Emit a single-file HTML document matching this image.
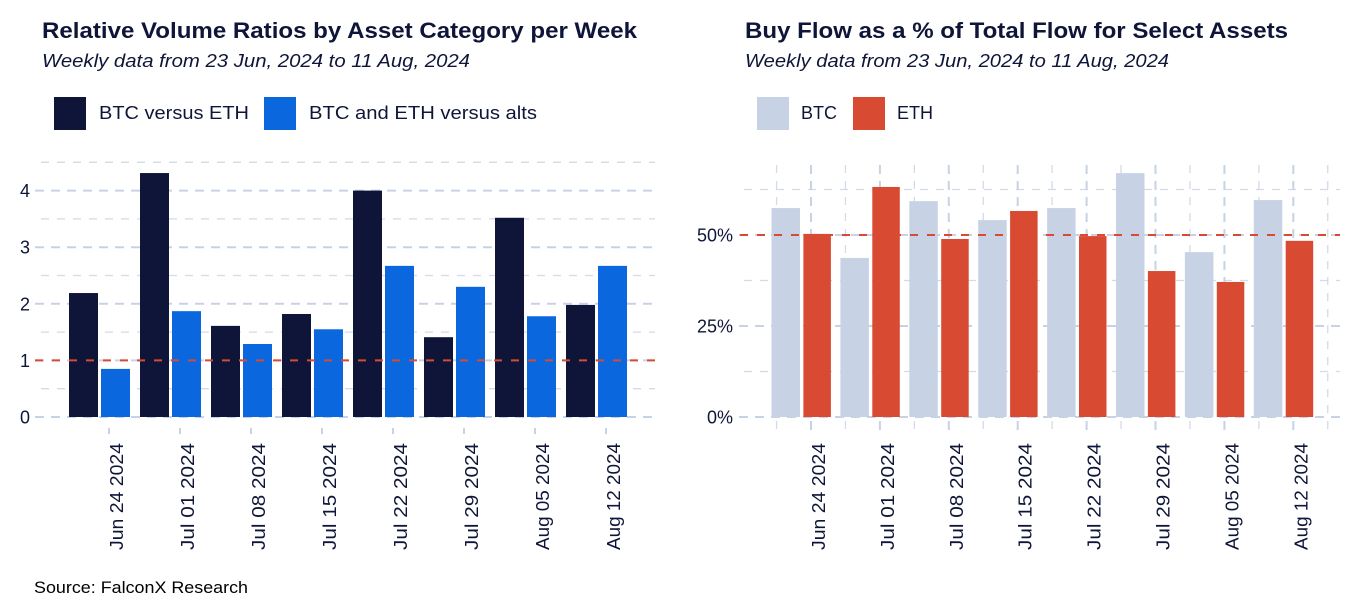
<!DOCTYPE html>
<html><head><meta charset="utf-8"><style>
html,body{margin:0;padding:0;background:#fff;}
svg{display:block;font-family:"Liberation Sans",Arial,sans-serif;}
</style></head><body>
<svg id="chart" width="1350" height="600" viewBox="0 0 1350 600">
<g id="static" fill="#0e1538">
<text x="42" y="38" font-size="22.5" font-weight="bold" textLength="595" lengthAdjust="spacingAndGlyphs">Relative Volume Ratios by Asset Category per Week</text>
<text x="42" y="67" font-size="18.5" font-style="italic" textLength="428" lengthAdjust="spacingAndGlyphs">Weekly data from 23 Jun, 2024 to 11 Aug, 2024</text>
<rect x="54" y="97" width="32" height="33" fill="#0e1538"/>
<text x="99" y="119" font-size="18" textLength="150" lengthAdjust="spacingAndGlyphs">BTC versus ETH</text>
<rect x="264" y="97" width="32" height="33" fill="#0b67de"/>
<text x="309" y="119" font-size="18" textLength="228" lengthAdjust="spacingAndGlyphs">BTC and ETH versus alts</text>

<text x="745" y="38" font-size="22.5" font-weight="bold" textLength="543" lengthAdjust="spacingAndGlyphs">Buy Flow as a % of Total Flow for Select Assets</text>
<text x="745" y="67" font-size="18.5" font-style="italic" textLength="424" lengthAdjust="spacingAndGlyphs">Weekly data from 23 Jun, 2024 to 11 Aug, 2024</text>
<rect x="757" y="97" width="32" height="33" fill="#c7d3e5"/>
<text x="801" y="119" font-size="18">BTC</text>
<rect x="853" y="97" width="32" height="33" fill="#d84a31"/>
<text x="897" y="119" font-size="18">ETH</text>

<text x="34" y="593" font-size="17" fill="#000" textLength="214" lengthAdjust="spacingAndGlyphs">Source: FalconX Research</text>
</g>
<g id="left"></g>
<g id="right"></g>
</svg>
<script>
const categories = ["Jun 24 2024","Jul 01 2024","Jul 08 2024","Jul 15 2024","Jul 22 2024","Jul 29 2024","Aug 05 2024","Aug 12 2024"];
const btcVsEth = [2.19,4.31,1.61,1.82,4.0,1.41,3.52,1.98];
const btcEthVsAlts = [0.85,1.87,1.29,1.55,2.67,2.3,1.78,2.67];
const leftTicks = [0,1,2,3,4];
const btcBuy = [57.4,43.7,59.3,54.1,57.4,67.0,45.3,59.6];
const ethBuy = [50.3,63.2,48.9,56.6,49.7,40.1,37.1,48.4];
const rightTicks = [0,25,50];

const NS="http://www.w3.org/2000/svg";
function mk(parent,tag,attrs){const e=document.createElementNS(NS,tag);for(const k in attrs)e.setAttribute(k,attrs[k]);parent.appendChild(e);return e;}
const grid="#c7d3e5";

// Left chart
const L=document.getElementById('left');
const ly=v=>417-v*56.6;
const lx=i=>109+71*i;
for(let v=0;v<=4.5;v+=0.5){
  const major=Number.isInteger(v);
  const ln=mk(L,'line',{x1:major?35:41,x2:655,y1:ly(v),y2:ly(v),stroke:grid,'stroke-width':major?2:1.3,'stroke-dasharray':major?'9,7':'8,8',opacity:major?1:0.8});
  
  
}
leftTicks.forEach(t=>{
  const tx=mk(L,'text',{x:30,y:ly(t)+6.5,'text-anchor':'end','font-size':18,fill:'#0e1538'});
  tx.textContent=t;
  
  
});
categories.forEach((c,i)=>{
  const x=lx(i);
  const b1=mk(L,'rect',{x:x-40,y:ly(btcVsEth[i]),width:29,height:ly(0)-ly(btcVsEth[i]),fill:'#0e1538'});
  
  
  const b2=mk(L,'rect',{x:x-8,y:ly(btcEthVsAlts[i]),width:29,height:ly(0)-ly(btcEthVsAlts[i]),fill:'#0b67de'});
  
  
  const tk=mk(L,'line',{x1:x,x2:x,y1:428,y2:434,stroke:grid,'stroke-width':2});
  
  
  const lb=mk(L,'text',{x:0,y:0,transform:`translate(${x+14},443) rotate(-90)`,'text-anchor':'end','font-size':18,fill:'#0e1538',textLength:107,lengthAdjust:'spacingAndGlyphs'});
  lb.textContent=c;
  
  
});
const lref=mk(L,'line',{x1:35,x2:655,y1:ly(1),y2:ly(1),stroke:'#d84a31','stroke-width':2,'stroke-dasharray':'8,9'});



// Right chart
const R=document.getElementById('right');
const ry=v=>417-v*3.64;
const rx=i=>811+68.9*i;
for(let k=0;k<9;k++){
  const xm=rx(0)+68.9*(k-0.5);
  const ln=mk(R,'line',{x1:xm,x2:xm,y1:165,y2:432,stroke:grid,'stroke-width':1.3,'stroke-dasharray':'8,8',opacity:0.8});
  
  
}
categories.forEach((c,i)=>{
  const ln=mk(R,'line',{x1:rx(i),x2:rx(i),y1:165,y2:435,stroke:grid,'stroke-width':2,'stroke-dasharray':'9,7'});
  
  
});
for(let v=0;v<=62.5;v+=12.5){
  const major=v%25===0;
  const ln=mk(R,'line',{x1:major?739:744,x2:1340,y1:ry(v),y2:ry(v),stroke:grid,'stroke-width':major?2:1.3,'stroke-dasharray':major?'9,7':'8,8',opacity:major?1:0.8});
  
  
}
rightTicks.forEach(t=>{
  const tx=mk(R,'text',{x:733,y:ry(t)+6.5,'text-anchor':'end','font-size':18,fill:'#0e1538'});
  tx.textContent=t+'%';
  
  
});
categories.forEach((c,i)=>{
  const x=rx(i);
  const b1=mk(R,'rect',{x:x-39.5,y:ry(btcBuy[i]),width:28.5,height:ry(0)-ry(btcBuy[i]),fill:'#c7d3e5'});
  
  
  const b2=mk(R,'rect',{x:x-7.6,y:ry(ethBuy[i]),width:27.5,height:ry(0)-ry(ethBuy[i]),fill:'#d84a31'});
  
  
  const lb=mk(R,'text',{x:0,y:0,transform:`translate(${x+14},443) rotate(-90)`,'text-anchor':'end','font-size':18,fill:'#0e1538',textLength:107,lengthAdjust:'spacingAndGlyphs'});
  lb.textContent=c;
  
  
});
const rref=mk(R,'line',{x1:740,x2:1340,y1:ry(50),y2:ry(50),stroke:'#d84a31','stroke-width':2,'stroke-dasharray':'8,9'});


</script>
</body></html>
